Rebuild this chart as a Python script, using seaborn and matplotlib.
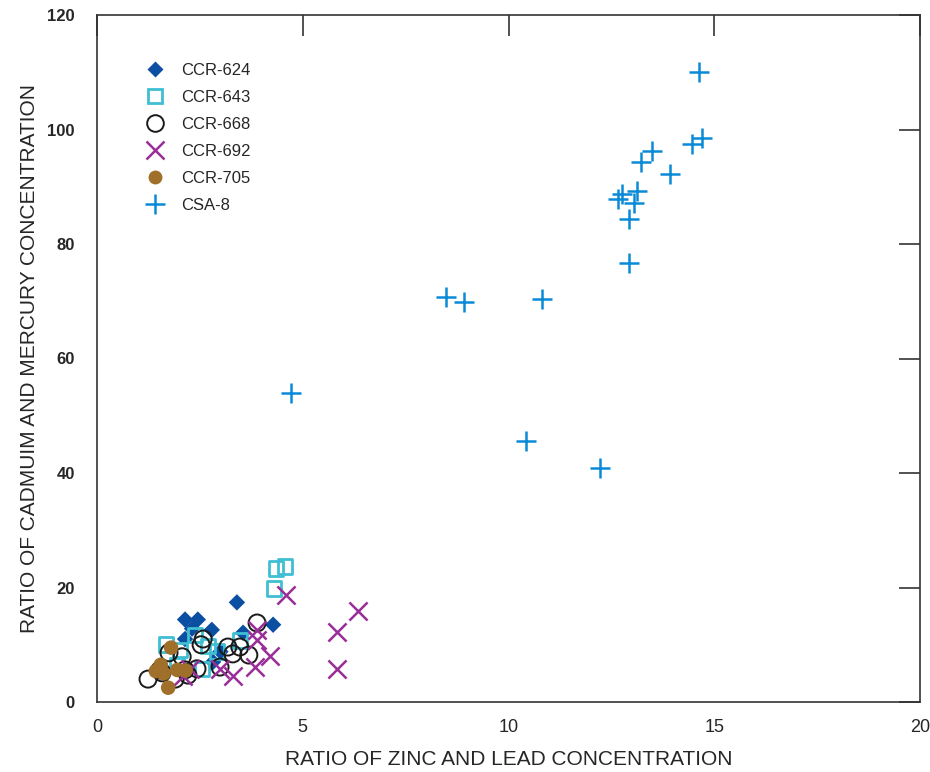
import matplotlib
matplotlib.use("Agg")
import matplotlib.pyplot as plt
import seaborn as sns
import pandas as pd
from matplotlib.lines import Line2D

# ---- data ----
ccr624_x = [2.14, 2.45, 2.31, 2.79, 2.14, 3.40, 4.28, 3.55, 2.82, 3.00]
ccr624_y = [14.4, 14.4, 12.8, 12.6, 11.0, 17.4, 13.5, 12.1, 7.0, 8.8]

ccr643_x = [4.35, 4.57, 4.30, 1.68, 2.02, 2.38, 2.70, 2.92, 3.47, 2.55, 1.94]
ccr643_y = [23.3, 23.7, 19.8, 10.0, 9.1, 11.7, 9.8, 8.8, 10.7, 5.8, 6.5]

ccr668_x = [3.89, 2.58, 2.53, 1.75, 2.07, 3.18, 3.30, 3.47, 3.69, 2.99, 2.43, 2.14, 2.21, 1.53, 1.58, 1.24, 1.90]
ccr668_y = [13.8, 11.0, 10.0, 8.6, 7.9, 9.6, 8.4, 9.6, 8.2, 6.1, 5.8, 5.6, 4.7, 5.6, 5.1, 4.0, 4.0]

ccr692_x = [4.59, 6.34, 5.83, 5.83, 3.89, 3.89, 4.20, 3.84, 3.30, 3.00, 2.25, 2.10]
ccr692_y = [18.7, 15.9, 12.3, 5.8, 12.6, 10.9, 8.1, 6.1, 4.6, 5.8, 5.8, 4.6]

ccr705_x = [1.80, 1.55, 1.43, 1.73, 1.62, 1.95, 2.15]
ccr705_y = [9.5, 6.5, 5.4, 2.5, 5.0, 5.6, 5.5]

csa8_x = [14.63, 14.70, 14.46, 13.49, 13.22, 13.92, 13.12, 12.76, 12.66, 13.05, 12.93, 12.93,
          8.48, 8.92, 10.81, 4.71, 10.43, 12.22]
csa8_y = [110.0, 98.5, 97.4, 96.2, 94.4, 92.3, 89.2, 88.8, 87.8, 87.1, 84.4, 76.7,
          70.8, 69.9, 70.4, 54.0, 45.6, 40.8]

labels = ["CCR-624", "CCR-643", "CCR-668", "CCR-692", "CCR-705", "CSA-8"]
xs = [ccr624_x, ccr643_x, ccr668_x, ccr692_x, ccr705_x, csa8_x]
ys = [ccr624_y, ccr643_y, ccr668_y, ccr692_y, ccr705_y, csa8_y]

x_ticks = [0, 5, 10, 15, 20]
y_ticks = [0, 20, 40, 60, 80, 100, 120]
x_label = "RATIO OF ZINC AND LEAD CONCENTRATION"
y_label = "RATIO OF CADMUIM AND MERCURY CONCENTRATION"

# ---- styles ----
styles = {
    "CCR-624": dict(marker="D", s=70, color="#0b4fa3", edgecolor="none"),
    "CCR-643": dict(marker="s", s=110, facecolor="none", edgecolor="#3fbfd3", linewidth=2.0),
    "CCR-668": dict(marker="o", s=150, facecolor="none", edgecolor="#1a1a1a", linewidth=1.4),
    "CCR-692": dict(marker="x", s=170, color="#9a2e98", linewidth=1.8),
    "CCR-705": dict(marker="o", s=110, color="#a0702a", edgecolor="none"),
    "CSA-8": dict(marker="+", s=200, color="#0a8ad6", linewidth=1.8),
}

sns.set_style("white")
plt.rcParams["font.family"] = ["Liberation Sans", "DejaVu Sans"]

fig = plt.figure(figsize=(9.3, 7.72), dpi=100)
ax = fig.add_axes([97 / 930, 1 - 702 / 772, 823 / 930, 687 / 772])

frames = []
for lab, x, y in zip(labels, xs, ys):
    frames.append(pd.DataFrame({"x": x, "y": y, "group": lab}))
df = pd.concat(frames, ignore_index=True)

for lab in labels:
    sub = df[df["group"] == lab]
    sns.scatterplot(data=sub, x="x", y="y", ax=ax, legend=False, zorder=3, **styles[lab])

leg_handles = []
for lab in labels:
    st = styles[lab]
    if lab == "CCR-624":
        h = Line2D([], [], linestyle="none", marker="D", markersize=8, markerfacecolor=st["color"], markeredgecolor="none")
    elif lab == "CCR-643":
        h = Line2D([], [], linestyle="none", marker="s", markersize=10, markerfacecolor="none", markeredgecolor=st["edgecolor"], markeredgewidth=2)
    elif lab == "CCR-668":
        h = Line2D([], [], linestyle="none", marker="o", markersize=12, markerfacecolor="none", markeredgecolor=st["edgecolor"], markeredgewidth=1.4)
    elif lab == "CCR-692":
        h = Line2D([], [], linestyle="none", marker="x", markersize=13, color=st["color"], markeredgewidth=1.8)
    elif lab == "CCR-705":
        h = Line2D([], [], linestyle="none", marker="o", markersize=10, markerfacecolor=st["color"], markeredgecolor="none")
    else:
        h = Line2D([], [], linestyle="none", marker="+", markersize=14, color=st["color"], markeredgewidth=1.8)
    leg_handles.append(h)

ax.legend(leg_handles, labels, loc="upper left", bbox_to_anchor=(0.048, 0.94), frameon=False,
          fontsize=12, handletextpad=0.9, labelspacing=0.72, borderaxespad=0, handlelength=1.4)

ax.set_xlim(0, 20)
ax.set_ylim(0, 120)
ax.set_xticks(x_ticks)
ax.set_yticks(y_ticks)
ax.set_xticklabels([str(v) for v in x_ticks], fontsize=13)
ax.set_yticklabels([str(v) for v in y_ticks], fontsize=12, fontweight="bold")
ax.set_xlabel(x_label, fontsize=15, labelpad=10)
ax.set_ylabel(y_label, fontsize=15, labelpad=6)

for sp in ax.spines.values():
    sp.set_visible(True)
    sp.set_color("#333333")
    sp.set_linewidth(1.2)
ax.tick_params(axis="both", direction="in", length=15, width=1.2, color="#333333",
               top=True, right=True, labeltop=False, labelright=False)
ax.tick_params(axis="y", pad=16)
ax.tick_params(axis="x", pad=12)
ax.grid(False)

fig.savefig("out.png", dpi=100)
